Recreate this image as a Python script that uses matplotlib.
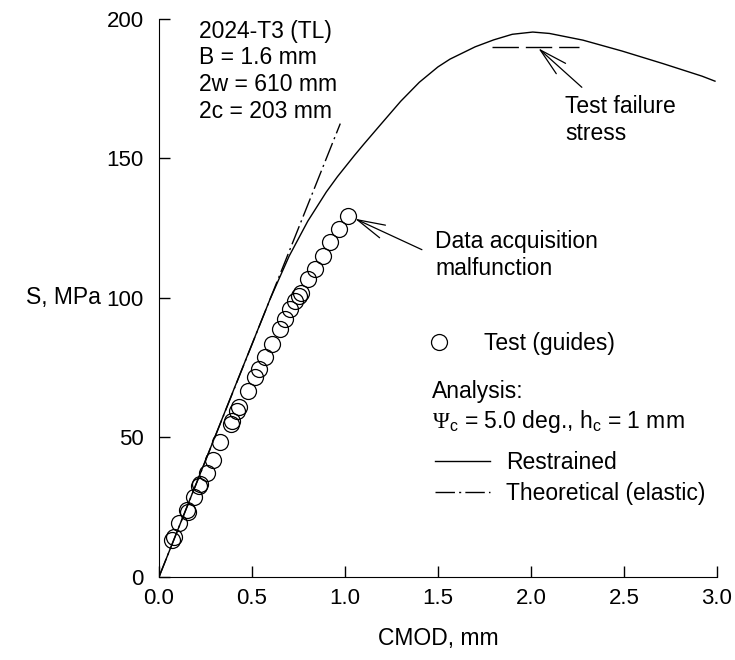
import matplotlib
matplotlib.use("Agg")
import matplotlib.pyplot as plt
from matplotlib.lines import Line2D

plt.rcParams["font.family"] = ["Liberation Sans", "DejaVu Sans"]
plt.rcParams["mathtext.fontset"] = "custom"
plt.rcParams["mathtext.rm"] = "Liberation Serif"
plt.rcParams["mathtext.sf"] = "Liberation Sans"

# Test data (guides), CMOD in mm, S in MPa
test_cmod = [0.07, 0.08, 0.108, 0.15, 0.155, 0.188, 0.215, 0.222, 0.258,
             0.29, 0.328, 0.385, 0.395, 0.42, 0.43, 0.478, 0.516, 0.538,
             0.57, 0.607, 0.65, 0.68, 0.704, 0.731, 0.755, 0.762, 0.80,
             0.839, 0.88, 0.919, 0.968, 1.016]
test_s = [13.2, 14.2, 19.4, 24.1, 23.2, 28.8, 32.5, 33.4, 37.4,
          42.1, 48.2, 54.8, 56.0, 59.5, 61.0, 66.5, 71.6, 74.5,
          78.8, 83.5, 88.7, 92.5, 96.0, 98.9, 100.8, 101.6, 106.8,
          110.4, 115.1, 120.1, 124.8, 129.5]

# Analysis, restrained
restr_cmod = [0, 0.2, 0.4, 0.6, 0.7, 0.8, 0.9, 0.96, 1.05, 1.1, 1.19, 1.3,
              1.4, 1.5, 1.565, 1.7, 1.8, 1.9, 2.01, 2.1, 2.28, 2.49, 2.71,
              2.92, 2.99]
restr_s = [0, 33.4, 66.8, 100.0, 115.0, 127.5, 138.0, 143.5, 151.0, 155.0,
           162.0, 170.5, 177.3, 182.8, 185.6, 190.0, 192.5, 194.5, 195.3,
           194.8, 192.4, 188.5, 184.0, 179.5, 177.7]

# Analysis, theoretical (elastic)
elastic_cmod = [0, 0.975]
elastic_s = [0, 162.5]

# Test failure stress
fail_s = 190
fail_cmod = [1.79, 2.26]

fs = 16.5
tfs = 16

fig = plt.figure(figsize=(7.35, 6.6), dpi=100)
ax = fig.add_axes([0.2163, 0.1258, 0.759, 0.8455])

ax.plot(restr_cmod, restr_s, color="black", lw=1.0)
ax.plot(elastic_cmod, elastic_s, color="black", lw=1.0,
        dashes=(14, 3, 1.5, 3))
ax.plot(test_cmod, test_s, "o", ms=11.5, mfc="none", mec="black", mew=0.9)
ax.plot(fail_cmod, [fail_s, fail_s], color="black", lw=1.0, dashes=(19, 5))

ax.set_xlim(0, 3.0)
ax.set_ylim(0, 200)
ax.set_xticks([0, 0.5, 1.0, 1.5, 2.0, 2.5, 3.0])
ax.set_xticklabels(["0.0", "0.5", "1.0", "1.5", "2.0", "2.5", "3.0"])
ax.set_yticks([0, 50, 100, 150, 200])
ax.spines["top"].set_visible(False)
ax.spines["right"].set_visible(False)
ax.tick_params(direction="in", length=8, width=1, labelsize=tfs)
ax.tick_params(axis="x", pad=8)
ax.tick_params(axis="y", pad=11)

ax.set_xlabel("CMOD, mm", fontsize=fs, labelpad=13)
ax.set_ylabel("S, MPa", fontsize=fs, rotation=0, ha="right", va="center")
ax.yaxis.set_label_coords(-0.104, 0.5)

# Annotations
ax.text(0.215, 199.8, "2024-T3 (TL)\nB = 1.6 mm\n2w = 610 mm\n2c = 203 mm",
        fontsize=fs, va="top", ha="left", linespacing=1.22)

arrow = dict(arrowstyle="->,head_length=1.0,head_width=0.25", color="black",
             lw=0.9, shrinkA=0, shrinkB=0, mutation_scale=20)
ax.annotate("", xy=(1.054, 128.4), xytext=(1.414, 117.3), arrowprops=arrow)
ax.text(1.484, 124.5, "Data acquisition\nmalfunction", fontsize=fs,
        va="top", ha="left", linespacing=1.22)
ax.annotate("", xy=(2.04, 189.5), xytext=(2.274, 175.5), arrowprops=arrow)
ax.text(2.183, 172.7, "Test failure\nstress", fontsize=fs,
        va="top", ha="left", linespacing=1.22)

# Legend
h_test = Line2D([], [], ls="none", marker="o", ms=11.5, mfc="none",
                mec="black", mew=0.9)
leg1 = ax.legend([h_test], ["Test (guides)"], loc="center left",
                 bbox_to_anchor=(0.489, 0.4175), frameon=False, fontsize=fs,
                 handlelength=0.6, handletextpad=1.66, borderpad=0,
                 borderaxespad=0)
ax.add_artist(leg1)
ax.text(1.468, 66.5, "Analysis:", fontsize=fs, va="center", ha="left")
ax.text(1.468, 55.8, r"$\Psi_\mathsf{c}$ = 5.0 deg., h$_\mathsf{c}$ = 1 mm",
        fontsize=fs, va="center", ha="left")
h_restr = Line2D([], [], color="black", lw=1.0)
h_elast = Line2D([], [], color="black", lw=1.0, dashes=(14, 3, 1.5, 3))
ax.legend([h_restr, h_elast], ["Restrained", "Theoretical (elastic)"],
          loc="upper left", bbox_to_anchor=(0.495, 0.225), frameon=False,
          fontsize=fs, handlelength=2.4, handletextpad=0.7, borderpad=0,
          borderaxespad=0, labelspacing=0.33)

fig.savefig("out.png", dpi=100)
